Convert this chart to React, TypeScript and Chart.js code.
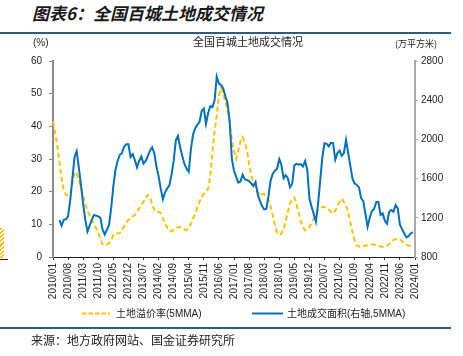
import React, { useEffect, useRef } from "react";
import { Chart, registerables } from "chart.js";

Chart.register(...registerables);

// Monthly categories 2010/01 .. 2024/01
const monthLabels: string[] = [];
for (let y = 2010; y <= 2024; y++) {
  for (let m = 1; m <= 12; m++) {
    if (y === 2024 && m > 1) break;
    monthLabels.push(`${y}/${String(m).padStart(2, "0")}`);
  }
}

// 土地溢价率 (5MMA), %, left axis
const premiumRate: (number | null)[] = [
  41.5, 38, 34, 29, 24, 20.5, 19, 18.8, 19.5, 22.5,
  26, 25.5, 23.5, 21, 18.8, 16, 14.2, 12.8, 11.3, 10.1,
  8.8, 7.5, 5.5, 3.9, 3.6, 3.8, 4.3, 5.3, 6.6, 7.3,
  7.2, 7.3, 8.3, 9.4, 10.5, 11.4, 11.8, 12.4, 12.9, 13.8,
  14.9, 15.8, 16.9, 18, 19, 18.4, 16.2, 14.3, 13.8, 13.8,
  13.5, 11.8, 10.3, 9, 8, 7.8, 8.4, 8.9, 9.1, 9.2,
  8.8, 8.4, 8.2, 9, 10.2, 11.8, 13.2, 15.2, 17, 18.3,
  19.3, 20.2, 20.8, 25, 32, 38.5, 43.5, 49.5, 51.8, 50.2,
  47.5, 45, 41, 36, 32.5, 30, 32.5, 35.5, 36.7, 35,
  32.8, 28.5, 25, 22.8, 21.5, 20, 18.6, 19.3, 19.2, 18.5,
  17.5, 15.5, 12.6, 9.8, 7.5, 6.8, 7.2, 8.3, 11, 13.8,
  16.4, 17.8, 18.2, 16.2, 13.5, 10.8, 9.1, 8.2, 8.4, 9.1,
  10.5, 11.8, 13, 14.2, 14.9, 15.3, 15.3, 15, 14.5, 13.8,
  13.3, 14.2, 15.5, 17, 17.8, 16.8, 15.9, 13.5, 10.5, 7.5,
  5, 3.5, 3.2, 3.1, 3.3, 3.5, 3.6, 3.7, 3.9, 3.8,
  3.6, 3.4, 3.2, 3.1, 3.1, 3.5, 4, 4.6, 5.2, 5.5,
  5.6, 5.3, 4.8, 4.2, 3.7, 3.5, 3.3, 3.3, null,
];

// 土地成交面积 (右轴, 5MMA), 万平方米, right axis
const landArea: (number | null)[] = [
  null, null, null, 1176, 1120, 1180, 1185, 1215, 1380, 1600,
  1820, 1880, 1710, 1530, 1340, 1176, 1060, 1120, 1180, 1228,
  1222, 1215, 1200, 1080, 1030, 1080, 1125, 1300, 1520, 1690,
  1780, 1843, 1860, 1925, 1950, 1950, 1820, 1850, 1790, 1715,
  1780, 1826, 1752, 1780, 1830, 1885, 1920, 1860, 1723, 1625,
  1495, 1390, 1460, 1500, 1530, 1640, 1780, 1990, 2035, 1920,
  1830, 1750, 1700, 1670, 1900, 2050, 2115, 2150, 2180, 2290,
  2315, 2160, 2270, 2340, 2330, 2400, 2640, 2570, 2555, 2520,
  2440, 2370, 2180, 1800, 1680, 1620, 1560, 1570, 1640, 1595,
  1585, 1575, 1550, 1525, 1565, 1440, 1375, 1320, 1285, 1290,
  1420, 1580, 1650, 1680, 1700, 1800, 1740, 1604, 1635, 1604,
  1512, 1545, 1735, 1750, 1742, 1748, 1725, 1780, 1690, 1399,
  1313, 1240, 1160, 1340, 1580, 1820, 1960, 1955, 1930, 1965,
  1962, 1792, 1860, 1885, 1833, 1860, 1995, 1860, 1730, 1600,
  1550, 1535, 1510, 1400, 1370, 1240, 1108, 1200, 1270, 1290,
  1360, 1362, 1230, 1245, 1170, 1140, 1262, 1279, 1262, 1330,
  1296, 1130, 1085, 1040, 1000, 1012, 1040, 1053, null,
];

const seriesNames = ["土地溢价率(5MMA)", "土地成交面积(右轴,5MMA)"];
const YELLOW = "#FFC000";
const BLUE = "#0070C0";
const FONT = "'Liberation Sans', Arial, 'Noto Sans CJK SC', sans-serif";

const legendPlugin = {
  id: "customLegend",
  afterDraw(chart: any) {
    const ctx = chart.ctx as CanvasRenderingContext2D;
    const y = 278.5;
    ctx.save();
    ctx.font = `10px ${FONT}`;
    ctx.textBaseline = "middle";
    ctx.fillStyle = "#222";
    // item 1
    ctx.strokeStyle = YELLOW;
    ctx.lineWidth = 2;
    ctx.setLineDash([4.5, 2]);
    ctx.beginPath();
    ctx.moveTo(82, y);
    ctx.lineTo(110, y);
    ctx.stroke();
    ctx.fillText(seriesNames[0], 116, y + 0.5);
    // item 2
    ctx.setLineDash([]);
    ctx.strokeStyle = BLUE;
    ctx.beginPath();
    ctx.moveTo(252, y);
    ctx.lineTo(283, y);
    ctx.stroke();
    ctx.fillText(seriesNames[1], 287, y + 0.5);
    ctx.restore();
  },
};

export default function App() {
  const ref = useRef<HTMLCanvasElement | null>(null);

  useEffect(() => {
    if (!ref.current) return;
    const chart = new Chart(ref.current, {
      type: "line",
      data: {
        labels: monthLabels,
        datasets: [
          {
            label: seriesNames[0],
            data: premiumRate,
            yAxisID: "y",
            borderColor: YELLOW,
            backgroundColor: YELLOW,
            borderWidth: 2,
            borderDash: [5, 3],
            pointRadius: 0,
            tension: 0,
            order: 1,
          },
          {
            label: seriesNames[1],
            data: landArea,
            yAxisID: "y1",
            borderColor: BLUE,
            backgroundColor: BLUE,
            borderWidth: 2,
            pointRadius: 0,
            tension: 0,
            order: 0,
          },
        ],
      },
      options: {
        responsive: false,
        animation: false,
        devicePixelRatio: 1,
        layout: { padding: { top: 26, left: 0, right: 0, bottom: 0 } },
        plugins: {
          legend: { display: false },
          title: { display: false },
          tooltip: { enabled: false },
        },
        scales: {
          x: {
            type: "category",
            offset: false,
            afterBuildTicks: (s: any) => {
              s.ticks = s.ticks.filter((_t: any, i: number) => i % 7 === 0);
            },
            afterFit: (s: any) => {
              s.height = 71;
            },
            grid: {
              display: true,
              drawOnChartArea: false,
              drawTicks: true,
              tickLength: 3,
              color: "#333",
            },
            border: { display: true, color: "#222", width: 1 },
            ticks: {
              autoSkip: false,
              maxRotation: 90,
              minRotation: 90,
              padding: 3,
              color: "#222",
              font: { family: FONT, size: 10 },
            },
          },
          y: {
            position: "left",
            min: 0,
            max: 60,
            afterFit: (s: any) => {
              s.width = 53;
            },
            ticks: {
              stepSize: 10,
              padding: 7,
              color: "#222",
              font: { family: FONT, size: 10 },
              callback: (v: any) => String(v),
            },
            grid: {
              display: true,
              drawOnChartArea: false,
              drawTicks: true,
              tickLength: 4,
              color: "#888",
            },
            border: { display: true, color: "#8a8a8a", width: 2 },
          },
          y1: {
            position: "right",
            min: 800,
            max: 2800,
            afterFit: (s: any) => {
              s.width = 48;
            },
            ticks: {
              stepSize: 400,
              padding: 3,
              color: "#222",
              font: { family: FONT, size: 10 },
              callback: (v: any) => String(v),
            },
            grid: {
              display: true,
              drawOnChartArea: false,
              drawTicks: true,
              tickLength: 3,
              color: "#aaa",
            },
            border: { display: true, color: "#aaa", width: 2 },
          },
        },
      },
      plugins: [legendPlugin],
    } as any);
    return () => chart.destroy();
  }, []);

  return (
    <div
      style={{
        position: "fixed",
        left: 0,
        top: 0,
        width: 463,
        height: 356,
        background: "#fff",
        overflow: "hidden",
      }}
    >
      <canvas
        ref={ref}
        width={463}
        height={293}
        style={{ position: "absolute", left: 0, top: 35, width: 463, height: 293 }}
      />
      <div
        style={{
          position: "absolute",
          left: 32,
          top: 3,
          fontSize: 17,
          lineHeight: "20px",
          fontWeight: "bold",
          fontStyle: "italic",
          fontFamily: "'Noto Sans CJK SC', sans-serif",
          color: "#1a1a1a",
          whiteSpace: "nowrap",
        }}
      >
        图表6：全国百城土地成交情况
      </div>
      <div style={{ position: "absolute", left: 0, top: 32, width: 451, height: 2, background: "#2b5d84" }} />
      <div
        style={{
          position: "absolute",
          left: 148,
          top: 34,
          width: 200,
          textAlign: "center",
          fontSize: 11,
          lineHeight: "14px",
          fontFamily: "'Noto Sans CJK SC', sans-serif",
          color: "#222",
          whiteSpace: "nowrap",
        }}
      >
        全国百城土地成交情况
      </div>
      <div
        style={{
          position: "absolute",
          left: 33,
          top: 37,
          fontSize: 10,
          lineHeight: "12px",
          fontFamily: FONT,
          color: "#222",
        }}
      >
        (%)
      </div>
      <div
        style={{
          position: "absolute",
          left: 395,
          top: 38,
          fontSize: 9,
          lineHeight: "12px",
          fontFamily: "'Noto Sans CJK SC', sans-serif",
          color: "#222",
          whiteSpace: "nowrap",
        }}
      >
        (万平方米)
      </div>
      <div
        style={{
          position: "absolute",
          left: 0,
          top: 228,
          width: 4,
          height: 30,
          background: "repeating-linear-gradient(135deg, #FFC000 0px, #FFC000 1.5px, #fff 1.5px, #fff 3px)",
        }}
      />
      <div style={{ position: "absolute", left: 0, top: 259, width: 8, height: 1, background: "#222" }} />
      <div style={{ position: "absolute", left: 0, top: 327, width: 451, height: 2, background: "#2b5d84" }} />
      <div
        style={{
          position: "absolute",
          left: 31,
          top: 332,
          fontSize: 12,
          lineHeight: "16px",
          fontFamily: "'Noto Sans CJK SC', sans-serif",
          color: "#222",
          whiteSpace: "nowrap",
        }}
      >
        来源：地方政府网站、国金证券研究所
      </div>
    </div>
  );
}
